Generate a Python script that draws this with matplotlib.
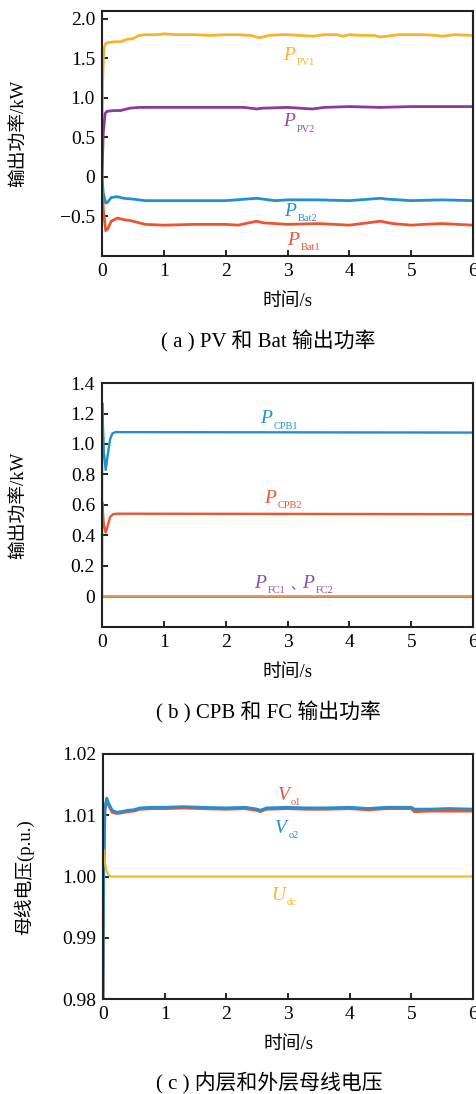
import matplotlib
matplotlib.use('Agg')

import matplotlib.pyplot as plt
import numpy as np

# ---- data ----
# (a) PV and battery output power, kW
t_pv1 = [0, 0.01, 0.03, 0.06, 0.1, 0.2, 0.3, 0.4, 0.5, 0.6, 0.7, 0.9, 1.0, 1.2, 1.5, 1.75, 2.0, 2.2, 2.4,
         2.55, 2.7, 2.9, 3.0, 3.2, 3.4, 3.6, 3.8, 3.9, 4.0, 4.2, 4.4, 4.5, 4.6, 4.8, 5.0, 5.2, 5.4, 5.5, 5.7, 6.0]
p_pv1 = [0.0, 1.2, 1.62, 1.69, 1.70, 1.71, 1.71, 1.74, 1.75, 1.79, 1.80, 1.80, 1.81, 1.80, 1.80, 1.79, 1.80, 1.80, 1.79,
         1.76, 1.79, 1.80, 1.80, 1.79, 1.78, 1.80, 1.80, 1.78, 1.80, 1.79, 1.79, 1.77, 1.78, 1.80, 1.80, 1.80, 1.79, 1.78, 1.80, 1.79]

t_pv2 = [0, 0.02, 0.05, 0.08, 0.2, 0.3, 0.45, 0.6, 1.0, 1.5, 2.0, 2.3, 2.5, 2.6, 3.0, 3.2, 3.4, 3.6, 4.0, 4.5, 5.0, 5.5, 6.0]
p_pv2 = [0.0, 0.55, 0.80, 0.83, 0.84, 0.84, 0.87, 0.88, 0.88, 0.88, 0.88, 0.88, 0.86, 0.87, 0.88, 0.87, 0.86, 0.88, 0.89, 0.88, 0.89, 0.89, 0.89]

t_bat2 = [0, 0.02, 0.06, 0.09, 0.15, 0.25, 0.35, 0.5, 0.7, 1.0, 1.5, 2.0, 2.5, 2.6, 2.8, 3.0, 3.5, 4.0, 4.5, 4.6, 5.0, 5.5, 6.0]
p_bat2 = [0.0, -0.2, -0.33, -0.32, -0.26, -0.25, -0.27, -0.28, -0.30, -0.30, -0.30, -0.30, -0.27, -0.28, -0.30, -0.29,
          -0.29, -0.30, -0.27, -0.28, -0.30, -0.29, -0.30]

t_bat1 = [0, 0.02, 0.06, 0.09, 0.15, 0.25, 0.35, 0.45, 0.55, 0.7, 1.0, 1.5, 2.0, 2.2, 2.5, 2.6, 2.8, 3.0, 3.5, 4.0,
          4.2, 4.5, 4.7, 5.0, 5.2, 5.5, 6.0]
p_bat1 = [0.0, -0.4, -0.68, -0.66, -0.56, -0.52, -0.54, -0.55, -0.57, -0.60, -0.61, -0.60, -0.60, -0.61, -0.56, -0.58,
          -0.59, -0.60, -0.59, -0.61, -0.59, -0.56, -0.59, -0.61, -0.60, -0.59, -0.61]

# (b) CPB and FC output power, kW
t_cpb1 = [0, 0.003, 0.03, 0.06, 0.09, 0.13, 0.17, 0.22, 6.0]
p_cpb1 = [0.62, 1.27, 0.95, 0.83, 0.92, 1.03, 1.07, 1.078, 1.075]
t_cpb2 = [0, 0.003, 0.03, 0.06, 0.09, 0.13, 0.18, 0.25, 6.0]
p_cpb2 = [0.0, 0.62, 0.47, 0.42, 0.46, 0.52, 0.54, 0.543, 0.54]
t_fc = [0, 6.0]
p_fc1 = [0.0, 0.0]
p_fc2 = [0.0, 0.0]

# (c) inner and outer bus voltage, p.u.
t_vo = [0, 0.01, 0.03, 0.06, 0.1, 0.15, 0.22, 0.3, 0.4, 0.5, 0.6, 0.8, 1.0, 1.3, 1.6, 2.0, 2.3, 2.5, 2.55, 2.65,
        3.0, 3.3, 3.6, 4.0, 4.3, 4.6, 5.0, 5.05, 5.3, 5.6, 6.0]
v_o2 = [0.98, 1.000, 1.011, 1.0128, 1.0118, 1.0108, 1.0105, 1.0106, 1.0108, 1.0109, 1.0112, 1.0113, 1.0113, 1.0114,
        1.0113, 1.0112, 1.0113, 1.0110, 1.0108, 1.0112, 1.0113, 1.0112, 1.0112, 1.0113, 1.0111, 1.0113, 1.0113,
        1.0110, 1.0110, 1.0111, 1.0110]
v_o1 = [0.98, 1.000, 1.0108, 1.0125, 1.0115, 1.0105, 1.0103, 1.0104, 1.0106, 1.0107, 1.0110, 1.0111, 1.0111, 1.0112,
        1.0111, 1.0110, 1.0111, 1.0108, 1.0106, 1.0110, 1.0111, 1.0110, 1.0110, 1.0111, 1.0109, 1.0111, 1.0111,
        1.0106, 1.0107, 1.0107, 1.0107]
t_udc = [0, 0.005, 0.02, 0.05, 0.08, 0.12, 6.0]
u_dc = [1.000, 1.0045, 1.003, 1.0012, 1.0004, 1.0000, 1.0000]

x_ticks = [0, 1, 2, 3, 4, 5, 6]
yticks_a = [-0.5, 0, 0.5, 1.0, 1.5, 2.0]
ylabels_a = ['\u22120.5', '0', '0.5', '1.0', '1.5', '2.0']
yticks_b = [0, 0.2, 0.4, 0.6, 0.8, 1.0, 1.2, 1.4]
ylabels_b = ['0', '0.2', '0.4', '0.6', '0.8', '1.0', '1.2', '1.4']
yticks_c = [0.98, 0.99, 1.00, 1.01, 1.02]
ylabels_c = ['0.98', '0.99', '1.00', '1.01', '1.02']

YELLOW = '#F6B52F'
PURPLE = '#8A3A9E'
BLUE = '#1F8FD6'
RED = '#EE5430'

plt.rcParams['font.family'] = ['Liberation Serif', 'Noto Sans CJK SC']
plt.rcParams['axes.unicode_minus'] = False


def put_label(ax, x, y, main, sub, color):
    # italic main letter with a small upright subscript
    t = ax.text(x, y, main, color=color, fontsize=14, style='italic', va='baseline', ha='left')
    ax.annotate(sub, xy=(1, 0), xycoords=t, xytext=(1.2, -2.4), textcoords='offset points',
                color=color, fontsize=7.5, va='bottom', ha='left')


def style_axes(ax, ylim, yticks, ylabels, ylab, ylab_x):
    ax.set_xlim(0, 6)
    ax.set_ylim(*ylim)
    ax.set_xticks(x_ticks)
    ax.set_xticklabels([str(v) for v in x_ticks])
    ax.set_yticks(yticks)
    ax.set_yticklabels(ylabels)
    ax.tick_params(direction='in', length=4, width=1.2, labelsize=14, top=False, right=False, pad=5)
    for s in ax.spines.values():
        s.set_linewidth(1.5)
        s.set_color('#222222')
    ax.set_xlabel('时间/s', fontsize=13.5)
    ax.set_ylabel(ylab, fontsize=13.5)
    ax.xaxis.set_label_coords(0.5, -0.15)
    ax.xaxis.label.set_va('top')
    ax.yaxis.set_label_coords(ylab_x, 0.5)


fig = plt.figure(figsize=(4.77, 10.94), dpi=100)
ax_a = fig.add_axes([0.2138, 0.766, 0.778, 0.224])
ax_b = fig.add_axes([0.2138, 0.4269, 0.778, 0.223])
ax_c = fig.add_axes([0.2159, 0.0868, 0.776, 0.224])

# (a)
ax_a.plot(t_pv1, p_pv1, color=YELLOW, lw=2)
ax_a.plot(t_pv2, p_pv2, color=PURPLE, lw=2)
ax_a.plot(t_bat2, p_bat2, color=BLUE, lw=2)
ax_a.plot(t_bat1, p_bat1, color=RED, lw=2)
style_axes(ax_a, (-1.0, 2.1), yticks_a, ylabels_a, '输出功率/kW', -0.2)
put_label(ax_a, 2.93, 1.485, 'P', 'PV1', YELLOW)
put_label(ax_a, 2.93, 0.64, 'P', 'PV2', '#9050A8')
put_label(ax_a, 2.95, -0.495, 'P', 'Bat2', BLUE)
put_label(ax_a, 3.0, -0.855, 'P', 'Bat1', RED)

# (b)
ax_b.plot(t_cpb1, p_cpb1, color=BLUE, lw=1.7)
ax_b.plot(t_cpb2, p_cpb2, color=RED, lw=1.7)
ax_b.plot(t_fc, p_fc1, color='#B07080', lw=2)
ax_b.plot(t_fc, p_fc2, color='#EFA848', lw=1.2)
style_axes(ax_b, (-0.2, 1.4), yticks_b, ylabels_b, '输出功率/kW', -0.2)
put_label(ax_b, 2.56, 1.136, 'P', 'CPB1', BLUE)
put_label(ax_b, 2.62, 0.613, 'P', 'CPB2', RED)
put_label(ax_b, 2.46, 0.057, 'P', 'FC1', '#8B4FB5')
ax_b.text(3.04, 0.057, '、', color='#8B4FB5', fontsize=10, va='baseline', ha='left')
put_label(ax_b, 3.23, 0.057, 'P', 'FC2', '#8B4FB5')

# (c)
ax_c.plot(t_vo, v_o1, color=RED, lw=2.2)
ax_c.plot(t_vo, v_o2, color=BLUE, lw=2)
ax_c.plot(t_udc, u_dc, color=YELLOW, lw=1.5)
style_axes(ax_c, (0.98, 1.02), yticks_c, ylabels_c, '母线电压(p.u.)', -0.186)
put_label(ax_c, 2.83, 1.0125, 'V', 'o1', RED)
put_label(ax_c, 2.79, 1.00715, 'V', 'o2', BLUE)
put_label(ax_c, 2.72, 0.99616, 'U', 'dc', YELLOW)

# captions
fig.text(0.562, 0.688, '( a ) PV 和 Bat 输出功率', fontsize=15, ha='center', va='center')
fig.text(0.562, 0.3486, '( b ) CPB 和 FC 输出功率', fontsize=15, ha='center', va='center')
fig.text(0.564, 0.0095, '( c ) 内层和外层母线电压', fontsize=15, ha='center', va='center')

fig.savefig('out.png', dpi=100)
